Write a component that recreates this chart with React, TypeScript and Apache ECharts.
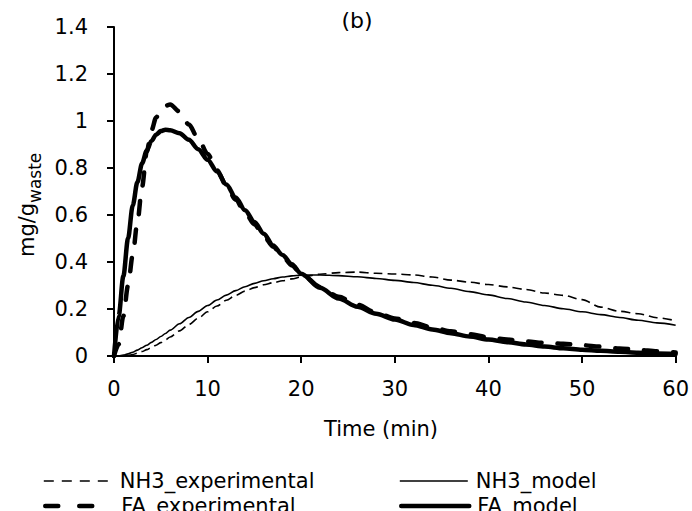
import React, { useEffect, useRef } from "react";
import * as echarts from "echarts";

// Sampling times (min) shared by all four curves
const minutes = [
  0, 0.5, 1, 1.5, 2, 2.5, 3, 3.5, 4, 4.5, 5, 5.5, 6,
  7, 8, 9, 10, 11, 12, 13, 14, 15, 16, 17, 18, 19, 20,
  22, 24, 26, 28, 30, 32, 34, 36, 38, 40, 42, 44, 46, 48, 50, 52, 54, 56, 58, 60,
];

// Release in mg per g of waste
const nh3Experimental = [
  0, 0, 0, 0.002, 0.006, 0.012, 0.019, 0.027, 0.036, 0.046, 0.057, 0.069, 0.081,
  0.107, 0.134, 0.161, 0.188, 0.213, 0.237, 0.258, 0.276, 0.291, 0.303, 0.312, 0.32, 0.328, 0.336,
  0.348, 0.355, 0.357, 0.352, 0.349, 0.345, 0.336, 0.323, 0.314, 0.304, 0.294, 0.283, 0.268, 0.258,
  0.24, 0.208, 0.19, 0.18, 0.163, 0.15,
];
const nh3Model = [
  0, 0.001, 0.004, 0.009, 0.016, 0.025, 0.035, 0.046, 0.058, 0.07, 0.083, 0.096, 0.11,
  0.137, 0.164, 0.19, 0.215, 0.238, 0.259, 0.278, 0.295, 0.309, 0.32, 0.329, 0.336, 0.341, 0.344,
  0.345, 0.342, 0.337, 0.33, 0.322, 0.313, 0.301, 0.288, 0.274, 0.26, 0.245, 0.23, 0.215, 0.201,
  0.188, 0.176, 0.164, 0.152, 0.141, 0.131,
];
const faExperimental = [
  0, 0.05, 0.17, 0.3, 0.43, 0.57, 0.72, 0.87, 0.96, 1.015, 1.045, 1.065, 1.07,
  1.04, 0.985, 0.925, 0.86, 0.79, 0.725, 0.665, 0.61, 0.56, 0.51, 0.465, 0.425, 0.385, 0.35,
  0.295, 0.252, 0.218, 0.185, 0.16, 0.14, 0.122, 0.105, 0.093, 0.08, 0.07, 0.062, 0.056, 0.052,
  0.046, 0.04, 0.032, 0.026, 0.02, 0.015,
];
const faModel = [
  0, 0.17, 0.34, 0.5, 0.64, 0.74, 0.82, 0.875, 0.915, 0.942, 0.957, 0.963, 0.961,
  0.948, 0.92, 0.88, 0.835, 0.785, 0.73, 0.675, 0.62, 0.57, 0.52, 0.47, 0.43, 0.39, 0.35,
  0.29, 0.245, 0.21, 0.18, 0.155, 0.132, 0.113, 0.097, 0.083, 0.07, 0.059, 0.049, 0.04, 0.033,
  0.027, 0.022, 0.018, 0.014, 0.011, 0.009,
];

const seriesNames = ["NH3_experimental", "NH3_model", "FA_experimental", "FA_model"];

const FONT = "DejaVu Sans";
const INK = "#000000";

const pairs = (vals: number[]) => minutes.map((t, i) => [t, vals[i]]);

type Stroke = { width: number; type: any; legendType: any; cap: "butt" | "round" };

const styles: Record<string, Stroke> = {
  NH3_experimental: { width: 1.6, type: [9, 5], legendType: [10, 8], cap: "butt" },
  NH3_model: { width: 1.6, type: "solid", legendType: "solid", cap: "butt" },
  FA_experimental: { width: 4.5, type: [13, 16], legendType: [13, 21], cap: "round" },
  FA_model: { width: 4.5, type: "solid", legendType: "solid", cap: "round" },
};

export default function App() {
  const ref = useRef<HTMLDivElement>(null);

  useEffect(() => {
    if (!ref.current) return;
    const chart = echarts.init(ref.current, undefined, { renderer: "svg" });

    const valueSets = [nh3Experimental, nh3Model, faExperimental, faModel];
    const legendPos = [
      { left: 43, top: 469 },
      { left: 399, top: 469 },
      { left: 43, top: 494 },
      { left: 399, top: 494 },
    ];

    chart.setOption({
      animation: false,
      backgroundColor: "#ffffff",
      textStyle: { fontFamily: FONT, color: INK },
      grid: { left: 114, right: 12, top: 27, bottom: 155, containLabel: false },
      xAxis: {
        type: "value",
        min: 0,
        max: 60,
        interval: 10,
        axisLine: { show: true, lineStyle: { color: INK, width: 2 } },
        axisTick: { show: true, inside: false, length: 7, lineStyle: { color: INK, width: 2 } },
        axisLabel: { color: INK, fontSize: 21, fontFamily: FONT, margin: 22 },
        splitLine: { show: false },
      },
      yAxis: {
        type: "value",
        min: 0,
        max: 1.4,
        interval: 0.2,
        axisLine: { show: true, lineStyle: { color: INK, width: 2 } },
        axisTick: { show: true, inside: false, length: 7, lineStyle: { color: INK, width: 2 } },
        axisLabel: { color: INK, fontSize: 21, fontFamily: FONT, margin: 26 },
        splitLine: { show: false },
      },
      legend: seriesNames.map((name, i) => ({
        data: [name],
        left: legendPos[i].left,
        top: legendPos[i].top,
        padding: 0,
        itemWidth: 68,
        itemHeight: 14,
        selectedMode: false,
        lineStyle: {
          width: styles[name].width,
          type: styles[name].legendType,
          cap: styles[name].cap,
          color: INK,
        },
        itemStyle: { opacity: 0 },
        textStyle: {
          fontFamily: FONT,
          fontSize: 21,
          color: INK,
          lineHeight: 24,
          padding: [0, 0, 0, 3],
        },
      })),
      series: seriesNames.map((name, i) => ({
        name,
        type: "line",
        data: pairs(valueSets[i]),
        smooth: 0.3,
        smoothMonotone: "x",
        symbol: "none",
        showSymbol: false,
        z: name.startsWith("FA") ? 3 : 2,
        lineStyle: {
          color: INK,
          width: styles[name].width,
          type: styles[name].type,
          cap: styles[name].cap,
          join: "round",
        },
        itemStyle: { color: INK },
      })),
      graphic: [
        {
          type: "text",
          x: 357,
          y: 20,
          style: {
            text: "(b)",
            fill: INK,
            font: `22px "${FONT}"`,
            align: "center",
            verticalAlign: "middle",
          },
        },
        {
          type: "text",
          x: 381,
          y: 429,
          style: {
            text: "Time (min)",
            fill: INK,
            font: `21px "${FONT}"`,
            align: "center",
            verticalAlign: "middle",
          },
        },
        {
          type: "group",
          x: 27,
          y: 257,
          rotation: Math.PI / 2,
          children: [
            {
              type: "text",
              x: 0,
              y: 0,
              style: {
                text: "mg/g",
                fill: INK,
                font: `21px "${FONT}"`,
                align: "left",
                verticalAlign: "middle",
              },
            },
            {
              type: "text",
              x: 54,
              y: 8,
              style: {
                text: "waste",
                fill: INK,
                font: `17px "${FONT}"`,
                align: "left",
                verticalAlign: "middle",
              },
            },
          ],
        },
      ],
    });

    return () => chart.dispose();
  }, []);

  return (
    <div
      ref={ref}
      style={{ position: "fixed", left: 0, top: 0, width: 692, height: 511 }}
    />
  );
}
